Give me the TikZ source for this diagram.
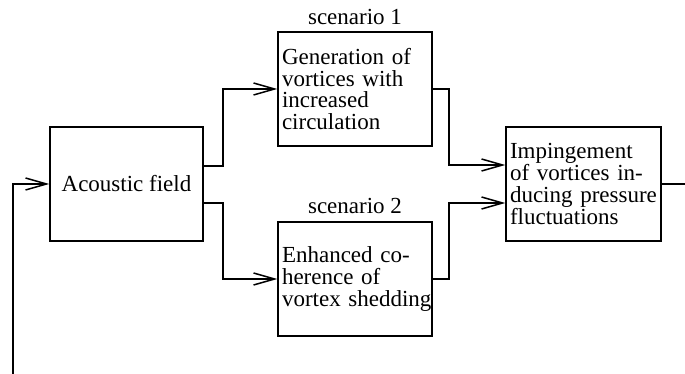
\documentclass[tikz,border=0pt]{standalone}
\usepackage{fontspec}
\setmainfont{Liberation Serif}
\usetikzlibrary{arrows.meta}

\begin{document}
\begin{tikzpicture}
  [x=1pt,y=-1pt,line width=1.5pt,
   every node/.style={font=\fontsize{23pt}{21.7pt}\selectfont},
   box/.style={draw,rectangle,minimum height=114pt,inner xsep=4pt,text width=146pt,align=left},
   arr/.style={-{Straight Barb[length=21pt,width=12pt]}}]
\useasboundingbox (0,0) rectangle (685,374);

\node (field)[draw,minimum width=153pt,minimum height=114pt] at (126.5,184) {Acoustic field};
  \node (gen)[box] at (355,89) {Generation of\\vortices with\\increased\\circulation};
  \node (coh)[box] at (355,279) {Enhanced co-\\herence of\\\mbox{vortex shedding}};
  \node (imp)[box,text width=147pt] at (583.5,184) {Impingement\\of vortices in-\\ducing pressure\\fluctuations};
  \node (sc1)[anchor=base] at (355,25) {scenario 1};
  \node (sc2)[anchor=base] at (355,213) {scenario 2};

  \coordinate (out) at (685,184);
  \coordinate (back) at (13,374);

 \foreach \from/\to/\dy in {field/gen/18pt,field/coh/-19pt}
    \draw[arr] ([yshift=\dy]\from.east) -- ++(19,0) |- (\to.west);
 \foreach \from/\dy in {gen/19pt,coh/-19pt}
    \draw[arr] (\from.east) -- ++(16,0) |- ([yshift=\dy]imp.west);
  \draw (imp) -- (out);
  \draw[arr] (back) |- (field);

\end{tikzpicture}
\end{document}
